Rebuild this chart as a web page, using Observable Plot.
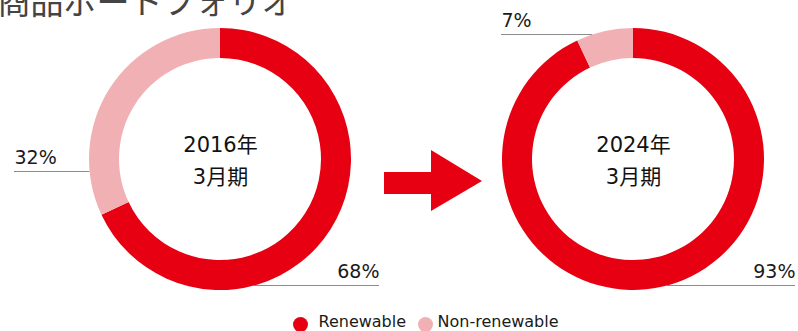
<!DOCTYPE html>
<html><head><meta charset="utf-8">
<script src="https://cdn.jsdelivr.net/npm/d3@7"></script>
<script src="https://cdn.jsdelivr.net/npm/@observablehq/plot@0.6"></script>
<style>body{margin:0;background:#fff} svg{overflow:visible}</style>
</head><body><div id="chart"></div>
<script>
// ---- data ----
const title = "商品ポートフォリオ";
const periods = ["2016年3月期", "2024年3月期"];
const periodLines = ["2016年\n3月期", "2024年\n3月期"];
const categories = ["Renewable", "Non-renewable"];
const renewable = [68, 93];
const nonRenewable = [32, 7];
const colors = ["#e60012", "#f1b1b4"];

// ---- layout (not data) ----
const ring = {outer: 131, inner: 101};
const labelLayout = [
  {dx: 159, dy: 118, anchor: "end"},
  {dx: -206, dy: 4, anchor: "start"},
  {dx: 162, dy: 118, anchor: "end"},
  {dx: -132, dy: -133, anchor: "start"}
];
const legendLayout = [{dot: 300, text: 318}, {dot: 425, text: 437}];
const font = "DejaVu Sans, 'Noto Sans CJK JP', sans-serif";

const series = [renewable, nonRenewable];
const slices = periods.flatMap((p, i) => {
  const rows = categories.map((c, j) => ({period: p, category: c, value: series[j][i]}));
  return d3.pie().sort(null).value(d => d.value)(rows)
    .map(a => ({...a.data, startAngle: a.startAngle, endAngle: a.endAngle}));
});

const arcGen = d3.arc().innerRadius(ring.inner).outerRadius(ring.outer);

function donutRender(index, scales, values, dims) {
  const cy = (dims.marginTop + dims.height - dims.marginBottom) / 2;
  const g = d3.create("svg:g");
  // leader lines
  for (const i of index) {
    const L = labelLayout[i];
    const cx = values.x[i];
    const ly = cy + L.dy + 8.5;
    const off = Math.sqrt(Math.max(0, ring.outer ** 2 - (ly - cy) ** 2));
    const x1 = L.anchor === "start" ? cx + L.dx : cx + off;
    const x2 = L.anchor === "start" ? cx - off : cx + L.dx;
    g.append("line").attr("x1", x1).attr("x2", x2).attr("y1", ly).attr("y2", ly)
      .attr("stroke", "#8c8c8c").attr("stroke-width", 1);
  }
  for (const i of index) {
    const s = slices[i];
    g.append("path")
      .attr("transform", `translate(${values.x[i]},${cy})`)
      .attr("d", arcGen({startAngle: s.startAngle, endAngle: s.endAngle}))
      .attr("fill", values.fill[i]);
  }
  // arrow between the donuts
  const xs = Array.from(index, i => values.x[i]);
  const mx = (d3.min(xs) + d3.max(xs)) / 2;
  const pts = [[-42.5,13],[4.5,13],[4.5,-9],[55.5,22],[4.5,52],[4.5,35],[-42.5,35]];
  g.append("path")
    .attr("d", "M" + pts.map(([a, b]) => `${mx + a},${cy + b}`).join("L") + "Z")
    .attr("fill", colors[0]);
  return g.node();
}

const marks = [
  Plot.dot(slices, {x: "period", fill: "category", render: donutRender}),
  Plot.text(periods, {x: d => d, text: (d, i) => periodLines[i], frameAnchor: "middle",
    dy: -2, fontSize: 21, lineHeight: 1.52, fill: "#111", fontFamily: font}),
  ...slices.map((s, i) => Plot.text([s], {
    x: "period", text: d => d.value + "%", frameAnchor: "middle",
    dx: labelLayout[i].dx, dy: labelLayout[i].dy, textAnchor: labelLayout[i].anchor,
    lineAnchor: "bottom", fontSize: 19, fill: "#1a1a1a", fontFamily: font
  })),
  Plot.text([title], {text: d => d, frameAnchor: "top-left", dx: -3, dy: 13,
    lineAnchor: "bottom", textAnchor: "start", fontSize: 33, fill: "#444",
    fontFamily: "'Noto Sans CJK JP', sans-serif"}),
  ...categories.map((c, j) => Plot.dot([c], {fill: d => d, frameAnchor: "bottom-left",
    dx: legendLayout[j].dot, dy: 6, r: 7.5})),
  ...categories.map((c, j) => Plot.text([c], {text: d => d, frameAnchor: "bottom-left",
    dx: legendLayout[j].text, dy: 8, lineAnchor: "bottom", textAnchor: "start",
    fontSize: 16, fill: "#1a1a1a", fontFamily: font}))
];

const chart = Plot.plot({
  width: 798, height: 331,
  marginTop: 0, marginBottom: 13, marginLeft: 0, marginRight: 0,
  x: {type: "point", domain: periods, range: [220, 633], padding: 0, axis: null},
  color: {domain: categories, range: colors},
  style: {fontFamily: font, background: "#fff"},
  marks
});
document.getElementById("chart").append(chart);
</script>
</body></html>
